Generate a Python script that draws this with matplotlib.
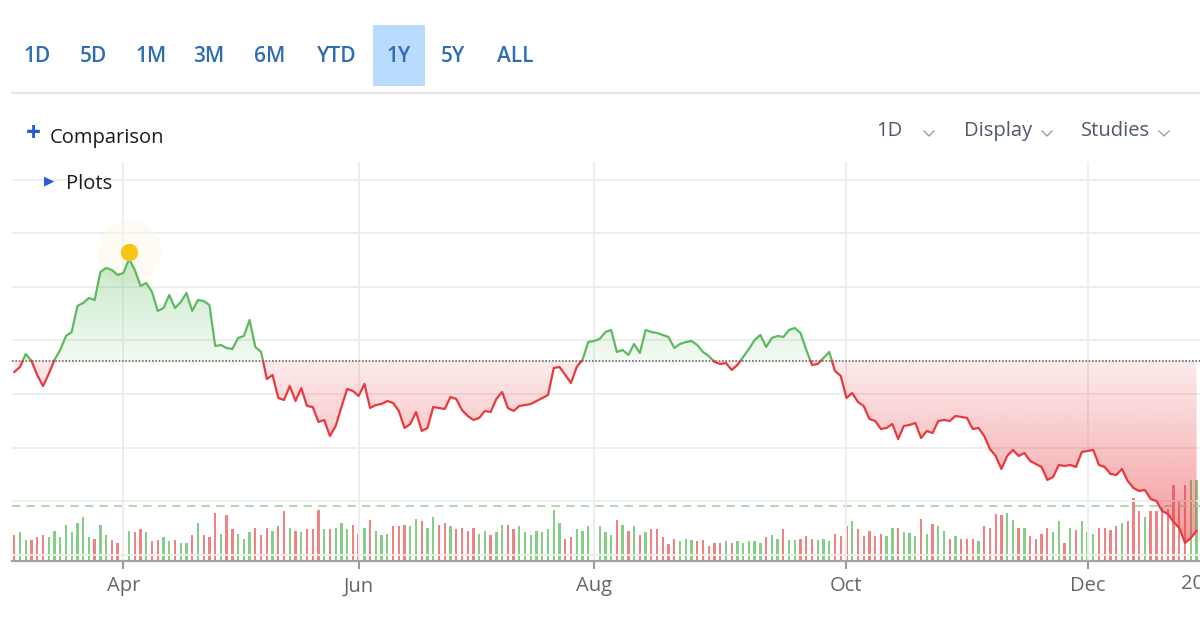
import matplotlib
matplotlib.use("Agg")
import matplotlib.pyplot as plt
import numpy as np
from matplotlib.path import Path
from matplotlib.patches import PathPatch, Rectangle
from matplotlib.lines import Line2D

plt.rcParams['font.family'] = ['Open Sans', 'DejaVu Sans']

# daily closes, one value per trading day (index 0 = mid March)
close = [
    104.10, 105.04, 107.46, 106.16, 103.54, 101.49, 103.73, 106.34, 108.21, 110.82,
    111.57, 116.42, 116.98, 117.91, 117.54, 122.76, 123.51, 123.13, 122.20, 122.57,
    125.19, 123.13, 120.15, 120.71, 119.03, 115.49, 116.04, 118.47, 116.04, 117.16,
    118.84, 115.49, 117.54, 117.35, 116.60, 108.96, 109.14, 108.58, 108.40, 110.45,
    110.82, 113.81, 108.77, 107.84, 102.80, 103.54, 99.25, 98.88, 101.49, 98.69,
    101.12, 97.76, 97.57, 94.78, 95.15, 92.16, 94.03, 97.57, 100.93, 100.56,
    99.63, 101.87, 97.39, 97.95, 98.13, 98.69, 98.32, 96.83, 93.66, 94.40,
    96.64, 93.10, 93.66, 97.57, 97.39, 97.20, 99.44, 99.07, 97.01, 95.90,
    95.15, 95.52, 96.83, 96.64, 99.07, 100.37, 97.39, 96.83, 97.76, 97.95,
    98.13, 98.69, 99.25, 99.81, 104.85, 105.04, 103.54, 102.05, 105.04, 106.34,
    109.70, 109.89, 110.26, 111.57, 111.94, 107.84, 108.21, 107.28, 109.33, 107.65,
    111.94, 111.57, 111.38, 111.01, 110.63, 108.58, 109.33, 109.70, 109.89, 109.14,
    107.84, 107.09, 105.97, 105.60, 105.78, 104.48, 105.41, 106.90, 108.40, 110.07,
    111.01, 108.77, 110.45, 110.82, 110.63, 111.94, 112.31, 111.38, 108.21, 105.41,
    105.60, 106.72, 107.84, 104.29, 103.36, 99.25, 100.19, 98.51, 97.76, 95.34,
    94.96, 93.47, 93.66, 94.40, 91.60, 94.03, 94.22, 94.59, 91.79, 93.10,
    92.72, 94.96, 95.15, 94.96, 95.90, 95.71, 95.52, 93.47, 93.66, 92.16,
    89.74, 88.43, 86.01, 88.43, 89.55, 88.43, 88.99, 87.50, 86.94, 86.38,
    83.96, 84.51, 86.75, 86.57, 86.75, 86.38, 89.18, 89.37, 89.55, 86.75,
    86.38, 85.07, 84.89, 86.01, 83.77, 82.46, 81.90, 82.09, 80.41, 80.04,
    78.17, 77.61, 76.12, 75.00, 72.20, 73.13, 74.44,
]

# daily volume (millions)
volume = [
    2.57, 2.90, 2.13, 2.13, 2.40, 2.57, 2.40, 3.00, 2.40, 3.63,
    2.90, 3.80, 4.40, 2.40, 2.23, 3.63, 2.57, 2.13, 1.80, 1.97,
    3.00, 2.90, 3.17, 2.90, 1.97, 2.13, 2.40, 1.97, 2.13, 1.80,
    1.80, 2.57, 3.80, 2.57, 2.40, 4.83, 2.73, 4.57, 3.23, 2.73,
    2.23, 2.90, 3.33, 2.57, 3.33, 3.00, 3.50, 5.00, 3.33, 3.00,
    2.90, 3.17, 3.17, 5.13, 3.17, 3.17, 3.33, 3.80, 3.17, 3.63,
    2.73, 3.33, 4.07, 3.00, 2.57, 2.73, 3.50, 3.50, 3.63, 3.50,
    4.23, 3.97, 3.33, 4.40, 3.63, 3.80, 3.50, 3.17, 3.33, 3.00,
    3.33, 2.73, 3.00, 2.57, 2.90, 3.63, 3.63, 3.17, 3.50, 2.90,
    2.57, 3.00, 2.90, 3.17, 5.13, 3.80, 2.23, 2.40, 3.17, 3.00,
    3.50, 4.23, 3.50, 2.90, 2.57, 4.07, 3.63, 3.00, 3.50, 2.57,
    2.90, 3.17, 3.17, 2.40, 1.67, 2.23, 1.97, 2.23, 2.13, 1.97,
    2.13, 1.50, 1.80, 1.80, 1.97, 1.80, 1.97, 1.80, 1.97, 1.97,
    1.80, 2.40, 2.57, 2.23, 3.17, 2.13, 2.13, 2.23, 2.50, 2.23,
    2.13, 2.23, 1.97, 2.73, 2.47, 3.47, 3.97, 3.17, 2.47, 3.00,
    2.47, 2.73, 2.47, 3.33, 3.33, 2.90, 2.80, 2.47, 4.23, 2.73,
    3.67, 3.50, 3.00, 2.23, 2.47, 2.23, 2.23, 2.23, 1.97, 3.50,
    3.33, 4.73, 4.57, 4.83, 4.07, 3.33, 3.33, 2.47, 2.23, 2.73,
    3.33, 2.90, 3.97, 1.80, 3.33, 3.07, 3.97, 2.90, 2.73, 3.33,
    3.33, 3.07, 3.50, 3.83, 3.97, 6.30, 5.00, 4.40, 5.00, 5.00,
    5.40, 5.20, 7.60, 5.90, 7.60, 8.10, 8.10,
]

prev_close = 106.16
peak_high = 126.55
avg_volume = 5.5

month_pos = [19, 60, 101, 145, 187]
month_labels = ['Apr', 'Jun', 'Aug', 'Oct', 'Dec']
year_pos = 207.3
year_label = '2024'

range_buttons = ['1D', '5D', '1M', '3M', '6M', 'YTD', '1Y', '5Y', 'ALL']
active_range = '1Y'
menu_items = ['1D', 'Display', 'Studies']

GREEN = '#5cbb5f'
RED = '#e8393f'
BAR_GREEN = '#84ce86'
BAR_RED = '#ef8282'

W, H = 1200, 630
fig = plt.figure(figsize=(W / 100, H / 100), dpi=100)
fig.patch.set_facecolor('white')


def fx(px):
    return px / W


def fy(py):
    return 1 - py / H


# ---- header ----
button_x = [37, 93, 151, 209, 270, 337, 399, 453, 515]
for bx, lab in zip(button_x, range_buttons):
    if lab == active_range:
        fig.add_artist(Rectangle((fx(373), fy(86)), fx(52), 61 / H,
                                 transform=fig.transFigure, facecolor='#b9dbff',
                                 edgecolor='none'))
    fig.text(fx(bx), fy(56), lab, ha='center', va='center', color='#2f6db3',
             fontsize=15, fontweight='semibold')

fig.add_artist(Line2D([fx(12), 1.0], [fy(93), fy(93)], color='#e4e4e4', lw=1.5,
                      transform=fig.transFigure))

fig.text(fx(33), fy(134), '+', ha='center', va='center', color='#2a5bd7',
         fontsize=19, fontweight='bold')
fig.text(fx(50), fy(138), 'Comparison', ha='left', va='center', color='#1c1c1c',
         fontsize=14.5)
fig.text(fx(49), fy(181), '\u25B6', ha='center', va='center', color='#2a5bd7',
         fontsize=9.5, family=['DejaVu Sans'])
fig.text(fx(66), fy(184), 'Plots', ha='left', va='center', color='#1c1c1c',
         fontsize=14.5)

menu_x = [889, 998, 1116]
chev_x = [929, 1047, 1164]
for mx, cx, lab in zip(menu_x, chev_x, menu_items):
    fig.text(fx(mx), fy(131), lab, ha='center', va='center', color='#4f5968',
             fontsize=14.5)
    fig.add_artist(Line2D([fx(cx - 5), fx(cx), fx(cx + 5)],
                          [fy(131), fy(136), fy(131)], color='#9aa0a8', lw=1.0,
                          transform=fig.transFigure))

# ---- chart ----
rect = [fx(12), fy(561), 1 - fx(12), (561 - 162) / H]
ax_v = fig.add_axes(rect)
ax = fig.add_axes(rect, sharex=ax_v)
ax.patch.set_visible(False)

p = np.array(close)
x = np.arange(len(p))
vol = np.array(volume)

# volume bars, coloured by day direction
change = np.diff(np.r_[prev_close, p])
bar_colors = np.where(change >= 0, BAR_GREEN, BAR_RED)
ax_v.bar(x, vol, width=0.4, color=bar_colors, linewidth=0)
ax_v.axhline(avg_volume, color='#b3dcae', lw=1.5, ls=(0, (4, 3)))
ax_v.set_ylim(0, 39.9)
ax_v.set_axis_off()

# insert crossing points with the previous close
xs, ys = [x[0]], [p[0]]
for i in range(1, len(p)):
    a, b = p[i - 1] - prev_close, p[i] - prev_close
    if a * b < 0:
        t = a / (a - b)
        xs.append(x[i - 1] + t)
        ys.append(prev_close)
    xs.append(x[i])
    ys.append(p[i])
xs = np.array(xs, dtype=float)
ys = np.array(ys, dtype=float)

ymin, ymax = 68.84, 143.28
xmin, xmax = -0.4, 206.6


def gradient_fill(where, rgb, y0, y1, a0, a1):
    poly = ax.fill_between(xs, ys, prev_close, where=where, color='none', lw=0)
    path = Path.make_compound_path(*poly.get_paths())
    patch = PathPatch(path, transform=ax.transData, facecolor='none',
                      edgecolor='none')
    ax.add_patch(patch)
    n = 256
    img = np.zeros((n, 1, 4))
    img[..., :3] = matplotlib.colors.to_rgb(rgb)
    img[:, 0, 3] = np.linspace(a0, a1, n)
    im = ax.imshow(img, extent=[xmin, xmax, y0, y1], origin='lower',
                   aspect='auto', zorder=2, interpolation='bilinear')
    im.set_clip_path(patch)


gradient_fill(ys >= prev_close, '#5cbb5f', prev_close, 126.9, 0.07, 0.36)
gradient_fill(ys <= prev_close, '#e8393f', 71.8, prev_close, 0.52, 0.10)

up = np.ma.masked_where(ys < prev_close, ys)
dn = np.ma.masked_where(ys > prev_close, ys)
ax.plot(xs, up, color=GREEN, lw=1.6, zorder=4, solid_joinstyle='round')
ax.plot(xs, dn, color=RED, lw=1.6, zorder=4, solid_joinstyle='round')

ax.axhline(prev_close, color='#6a6a6a', lw=1.2, ls=(0, (1, 1)), zorder=3)

# 52-week high marker
ip = int(np.argmax(p))
ax.plot(ip, peak_high, 'o', ms=46, color='#fdf7ea', alpha=0.45, mew=0, zorder=1.5)
ax.plot(ip, peak_high, 'o', ms=12.5, color='#f5c518', mew=0, zorder=6)

ax.set_xlim(xmin, xmax)
ax.set_ylim(ymin, ymax)
ax.set_yticks(np.arange(70, 141, 10))
ax.tick_params(axis='y', left=False, labelleft=False)
ax.set_xticks(month_pos)
ax.set_xticklabels(month_labels)
ax.tick_params(axis='x', length=6, width=1.5, color='#9a9a9a',
               labelcolor='#666666', labelsize=14.5, pad=5)
ax.grid(True, color='#eeeeee', lw=1.4)
ax.set_axisbelow(True)
ax.spines[['top', 'right', 'left']].set_visible(False)
ax.spines['bottom'].set_color('#a3a3a3')
ax.spines['bottom'].set_linewidth(1.6)

# year boundary label, cut by the right edge as on the page
ax.text(year_pos, -0.058, year_label, transform=ax.get_xaxis_transform(),
        ha='center', va='center', color='#666666', fontsize=14.5, clip_on=False)

fig.savefig('out.png', dpi=100)
